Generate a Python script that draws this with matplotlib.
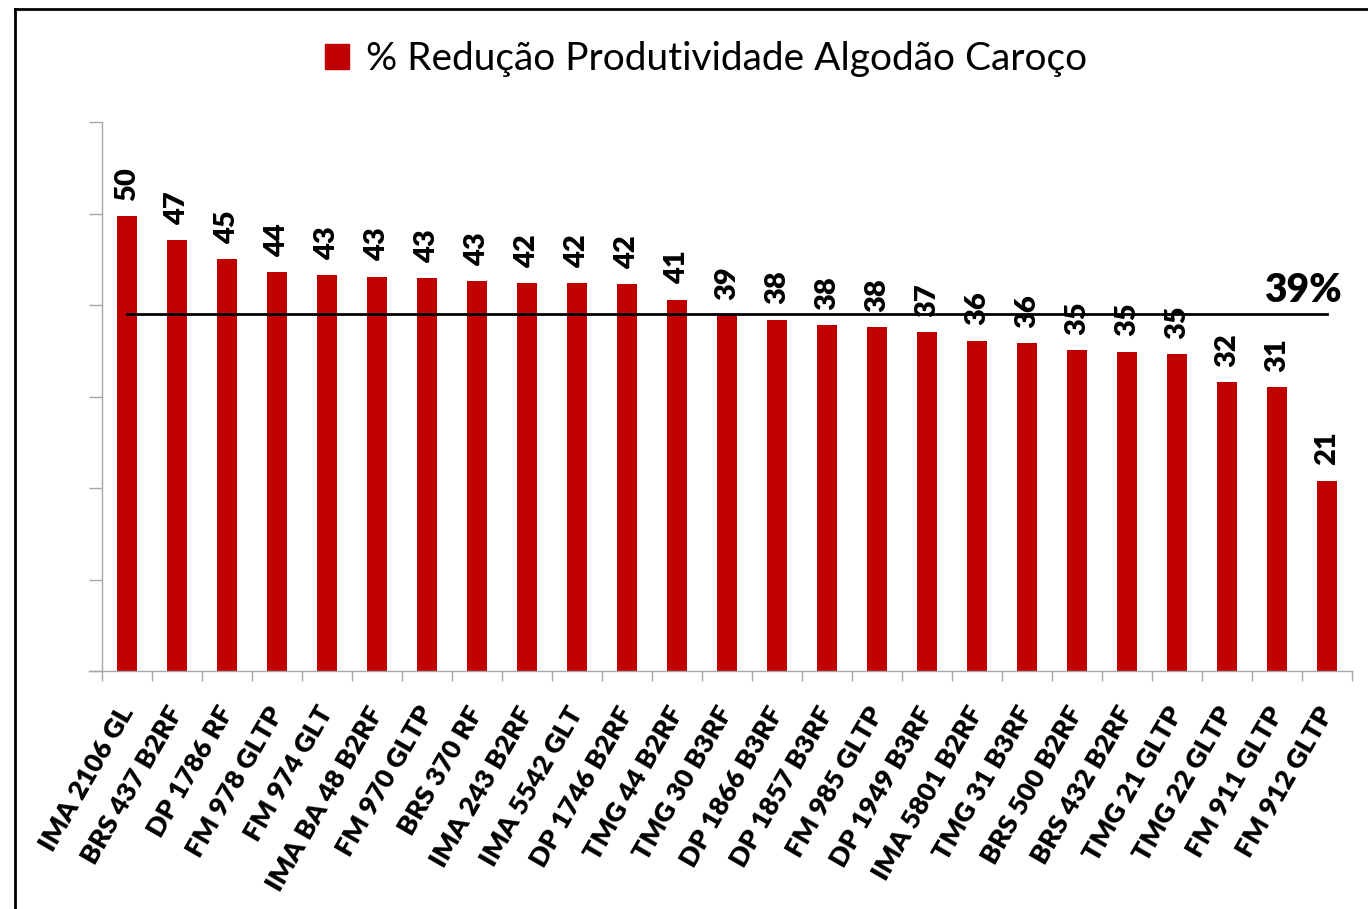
import matplotlib
matplotlib.use("Agg")
import matplotlib.pyplot as plt
from matplotlib.patches import Patch
from matplotlib.lines import Line2D
import numpy as np

categories = ["IMA 2106 GL", "BRS 437 B2RF", "DP 1786 RF", "FM 978 GLTP", "FM 974 GLT",
              "IMA BA 48 B2RF", "FM 970 GLTP", "BRS 370 RF", "IMA 243 B2RF", "IMA 5542 GLT",
              "DP 1746 B2RF", "TMG 44 B2RF", "TMG 30 B3RF", "DP 1866 B3RF", "DP 1857 B3RF",
              "FM 985 GLTP", "DP 1949 B3RF", "IMA 5801 B2RF", "TMG 31 B3RF", "BRS 500 B2RF",
              "BRS 432 B2RF", "TMG 21 GLTP", "TMG 22 GLTP", "FM 911 GLTP", "FM 912 GLTP"]
values = [49.7, 47.1, 45.0, 43.6, 43.3, 43.1, 42.95, 42.6, 42.4, 42.4,
          42.3, 40.6, 38.9, 38.4, 37.8, 37.6, 37.0, 36.1, 35.8, 35.1,
          34.9, 34.6, 31.6, 31.0, 20.8]
series_name = "% Redução Produtividade Algodão Caroço"

FONT = ["Lato", "DejaVu Sans"]
plt.rcParams['font.family'] = FONT
RED = "#C00000"
GRAY = "#A6A6A6"
BOLD = "heavy"

W, H = 1368, 909
fig = plt.figure(figsize=(W / 100, H / 100), dpi=100)
ax = fig.add_axes([102 / W, (H - 671) / H, (1352 - 102) / W, (671 - 122) / H])

x = np.arange(len(categories))
ax.bar(x, values, width=0.4, color=RED, zorder=2)

mean_val = float(np.mean(values))
ax.plot([x[0], x[-1]], [mean_val, mean_val], color="black", lw=2, zorder=3)
ax.text(x[-1] + 0.3, mean_val + 0.6, f"{mean_val:.0f}%", ha="right", va="bottom",
        fontsize=28, fontweight=BOLD, color="black")

for xi, v in zip(x, values):
    ax.annotate(f"{v:.0f}", (xi, v), xytext=(0, 11), textcoords="offset points",
                rotation=90, ha="center", va="bottom", fontsize=21, fontweight=BOLD)

ax.set_xlim(-0.5, len(categories) - 0.5)
ax.set_ylim(0, 60)
ax.set_yticks(np.arange(0, 61, 10))
ax.set_yticklabels([])
ax.tick_params(axis="y", length=9.5, width=1, color=GRAY)

ax.set_xticks(x)
ax.set_xticklabels(categories, rotation=60, ha="right", va="center",
                   rotation_mode="anchor", fontsize=19.5, fontweight=BOLD)
ax.set_xticks(np.arange(-0.5, len(categories), 1), minor=True)
ax.tick_params(axis="x", which="major", length=0, pad=27)
ax.tick_params(axis="x", which="minor", length=7.5, width=1, color=GRAY)

for s in ["top", "right"]:
    ax.spines[s].set_visible(False)
for s in ["left", "bottom"]:
    ax.spines[s].set_color(GRAY)
    ax.spines[s].set_linewidth(1)
# extend x axis line left to the y tick end
ax.plot([-0.5 - 13 / 50, -0.5], [0, 0], color=GRAY, lw=1, clip_on=False)

handle = Patch(facecolor=RED, edgecolor=RED)
fig.legend([handle], [series_name], loc="center", bbox_to_anchor=(706 / W, 1 - 59 / H),
           frameon=False, fontsize=28, handlelength=0.62, handleheight=0.62,
           handletextpad=0.45)

# outer frame
fig.add_artist(Line2D([15 / W, 15 / W], [0, 1 - 9 / H], color="black", lw=2))
fig.add_artist(Line2D([15 / W, 1], [1 - 9 / H, 1 - 9 / H], color="black", lw=2))

fig.savefig("out.png", dpi=100)
